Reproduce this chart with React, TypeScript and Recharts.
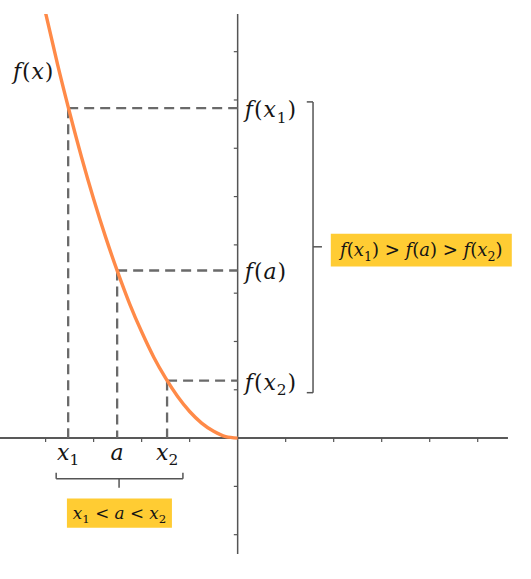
import { LineChart, Line, XAxis, YAxis, ReferenceLine, ReferenceArea, ReferenceDot } from "recharts";

// curve (tick units: one tick = 1)
const curveX = [-4, -3.75, -3.5, -3.25, -3, -2.75, -2.5, -2.25, -2, -1.75, -1.5, -1.25, -1, -0.75, -0.5, -0.25, 0];
const curveY = [8.8, 7.73, 6.74, 5.81, 4.95, 4.16, 3.44, 2.78, 2.2, 1.68, 1.24, 0.86, 0.55, 0.31, 0.14, 0.03, 0];

// x1, a, x2 and their function values
const markX = [-3.53, -2.51, -1.47];
const markY = [6.83, 3.47, 1.19];

const xTicks = [-4, -3, -2, -1, 1, 2, 3, 4, 5];
const yTicks = [-2, -1, 1, 2, 3, 4, 5, 6, 7, 8];

type Part = { t: string; i?: boolean; sub?: boolean };

const xLabels: Part[][] = [
  [{ t: "x", i: true }, { t: "1", sub: true }],
  [{ t: "a", i: true }],
  [{ t: "x", i: true }, { t: "2", sub: true }],
];
const yLabels: Part[][] = [
  [{ t: "f", i: true }, { t: "(" }, { t: "x", i: true }, { t: "1", sub: true }, { t: ")" }],
  [{ t: "f", i: true }, { t: "(" }, { t: "a", i: true }, { t: ")" }],
  [{ t: "f", i: true }, { t: "(" }, { t: "x", i: true }, { t: "2", sub: true }, { t: ")" }],
];
const fxLabel: Part[] = [{ t: "f", i: true }, { t: "(" }, { t: "x", i: true }, { t: ")" }];
const xOrder: Part[] = [
  { t: "x", i: true }, { t: "1", sub: true }, { t: " < " }, { t: "a", i: true }, { t: " < " },
  { t: "x", i: true }, { t: "2", sub: true },
];
const yOrder: Part[] = [
  ...yLabels[0], { t: " > " }, ...yLabels[1], { t: " > " }, ...yLabels[2],
];

const data = curveX.map((x, i) => ({ x, y: curveY[i] }));

const FONT = "'DejaVu Serif', 'Liberation Serif', serif";
const DASH = { stroke: "#6a6a6a", strokeWidth: 2.3, strokeDasharray: "10 6" };
const BRACKET = { stroke: "#555", strokeWidth: 1.5 };
const YELLOW = "#ffcc33";

function MathText({ x, y, parts, size, anchor = "start", spacing = 0 }: { x: number; y: number; parts: Part[]; size: number; anchor?: string; spacing?: number }) {
  let prevSub = false;
  return (
    <text x={x} y={y} textAnchor={anchor} style={{ fontFamily: FONT }} fontSize={size} fill="#151515" letterSpacing={spacing}>
      {parts.map((p, k) => {
        const shift = size * 0.25;
        const dy = p.sub && !prevSub ? shift : !p.sub && prevSub ? -shift : 0;
        prevSub = !!p.sub;
        return (
          <tspan key={k} dy={dy} fontStyle={p.i ? "italic" : "normal"} fontSize={p.sub ? size * 0.7 : size}>
            {p.t}
          </tspan>
        );
      })}
    </text>
  );
}

const textShape = (parts: Part[], size: number, anchor = "start", dy = 0, spacing = 0) =>
  (props: { cx?: number; cy?: number }) => (
    <MathText x={props.cx ?? 0} y={(props.cy ?? 0) + dy} parts={parts} size={size} anchor={anchor} spacing={spacing} />
  );

export default function App() {
  return (
    <div style={{ position: "absolute", left: 0, top: 0 }}>
      <LineChart width={531} height={579} data={data} margin={{ top: 14, right: 0, bottom: 25, left: 0 }}>
        <XAxis type="number" dataKey="x" domain={[-4.95, 6.11]} allowDataOverflow hide />
        <YAxis type="number" dataKey="y" domain={[-2.4, 8.78]} allowDataOverflow hide />

        {/* axes through the origin */}
        <ReferenceLine segment={[{ x: -4.95, y: 0 }, { x: 5.63, y: 0 }]} stroke="#222" strokeWidth={1.5} />
        <ReferenceLine x={0} stroke="#555" strokeWidth={1.5} />
        {xTicks.map((t) => (
          <ReferenceLine key={"xt" + t} segment={[{ x: t, y: 0 }, { x: t, y: -0.08 }]} stroke="#555" strokeWidth={1.2} />
        ))}
        {yTicks.map((t) => (
          <ReferenceLine key={"yt" + t} segment={[{ x: -0.08, y: t }, { x: 0, y: t }]} stroke="#555" strokeWidth={1.2} />
        ))}

        {/* dashed guides */}
        {markX.map((mx, i) => (
          <ReferenceLine key={"h" + i} segment={[{ x: mx, y: markY[i] }, { x: 0, y: markY[i] }]} {...DASH} />
        ))}
        {markX.map((mx, i) => (
          <ReferenceLine key={"v" + i} segment={[{ x: mx, y: markY[i] }, { x: mx, y: 0 }]} {...DASH} />
        ))}

        {/* bottom brace */}
        <ReferenceLine segment={[{ x: -3.78, y: -0.843 }, { x: -1.14, y: -0.843 }]} {...BRACKET} />
        <ReferenceLine segment={[{ x: -3.78, y: -0.843 }, { x: -3.78, y: -0.72 }]} {...BRACKET} />
        <ReferenceLine segment={[{ x: -1.14, y: -0.843 }, { x: -1.14, y: -0.72 }]} {...BRACKET} />
        <ReferenceLine segment={[{ x: -2.47, y: -0.843 }, { x: -2.47, y: -1.03 }]} {...BRACKET} />
        {/* right bracket */}
        <ReferenceLine segment={[{ x: 1.57, y: 6.96 }, { x: 1.57, y: 0.94 }]} {...BRACKET} />
        <ReferenceLine segment={[{ x: 1.44, y: 6.96 }, { x: 1.57, y: 6.96 }]} {...BRACKET} />
        <ReferenceLine segment={[{ x: 1.44, y: 0.94 }, { x: 1.57, y: 0.94 }]} {...BRACKET} />
        <ReferenceLine segment={[{ x: 1.57, y: 3.96 }, { x: 1.756, y: 3.96 }]} {...BRACKET} />

        <ReferenceArea x1={-3.556} x2={-1.369} y1={-1.857} y2={-1.25} fill={YELLOW} fillOpacity={1} stroke="none" />
        <ReferenceArea x1={1.94} x2={5.71} y1={3.55} y2={4.23} fill={YELLOW} fillOpacity={1} stroke="none" />

        <Line type="monotone" dataKey="y" stroke="#ff8a48" strokeWidth={3.4} dot={false} isAnimationActive={false} />

        {/* labels */}
        {markX.map((mx, i) => (
          <ReferenceDot key={"xl" + i} x={mx} y={-0.45} r={0} shape={textShape(xLabels[i], 22, "middle")} />
        ))}
        {markY.map((my, i) => (
          <ReferenceDot key={"yl" + i} x={0.15} y={my} r={0} shape={textShape(yLabels[i], 22, "start", 9, 0.9)} />
        ))}
        <ReferenceDot x={-4.68} y={7.44} r={0} shape={textShape(fxLabel, 22, "start", 0, 0.9)} />
        <ReferenceDot x={-2.46} y={-1.553} r={0} shape={textShape(xOrder, 16.8, "middle", 5.5)} />
        <ReferenceDot x={3.825} y={3.89} r={0} shape={textShape(yOrder, 18, "middle", 6)} />
      </LineChart>
    </div>
  );
}
